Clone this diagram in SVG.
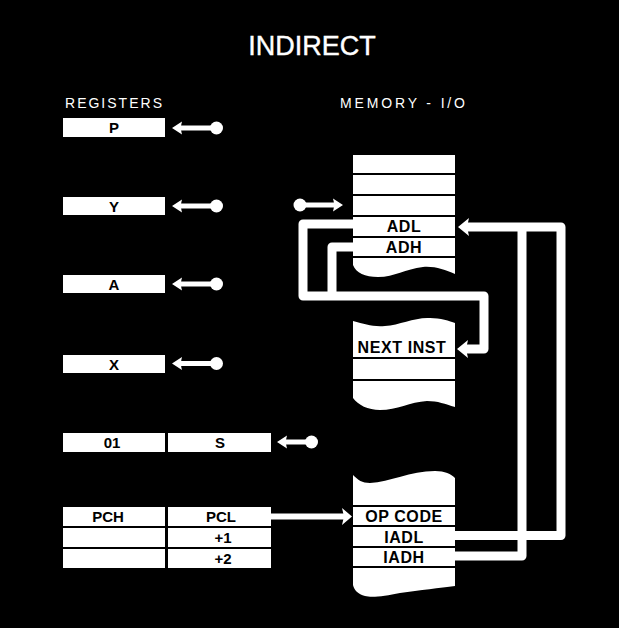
<svg xmlns="http://www.w3.org/2000/svg" width="619" height="628" viewBox="0 0 619 628">
<style>
.box{fill:#fff}
.lbl{font-family:"Liberation Sans",Arial,sans-serif;font-weight:bold;font-size:15px;fill:#000;text-anchor:middle}
.mlbl{font-size:16px;letter-spacing:0.6px}
.hdr{font-family:"Liberation Sans",Arial,sans-serif;font-size:14px;fill:#fff}
.wire{fill:none;stroke:#fff;stroke-width:9;stroke-linejoin:round;stroke-linecap:butt}
.bus{fill:none;stroke:#fff;stroke-width:5}
.head{fill:#fff}
</style>
<rect x="0" y="0" width="619" height="628" fill="#000"/>
<text x="312" y="55" font-family="'Liberation Sans',Arial,sans-serif" font-size="27" fill="#fff" text-anchor="middle" stroke="#fff" stroke-width="0.4">INDIRECT</text>
<text class="hdr" x="65" y="108" textLength="97" lengthAdjust="spacing">REGISTERS</text>
<text class="hdr" x="340" y="108" textLength="125" lengthAdjust="spacing">MEMORY - I/O</text>

<g id="reg-p"><rect class="box" x="63" y="118" width="102" height="19"/><text class="lbl" x="114" y="133">P</text></g>
<g id="reg-y"><rect class="box" x="63" y="197" width="102" height="18"/><text class="lbl" x="114" y="211.5">Y</text></g>
<g id="reg-a"><rect class="box" x="63" y="275" width="102" height="18"/><text class="lbl" x="114" y="289.5">A</text></g>
<g id="reg-x"><rect class="box" x="63" y="355" width="102" height="18"/><text class="lbl" x="114" y="369.5">X</text></g>
<g id="reg-01"><rect class="box" x="63" y="433" width="102" height="19"/><text class="lbl" x="112" y="448">01</text></g>
<g id="reg-s"><rect class="box" x="168" y="433" width="103" height="19"/><text class="lbl" x="220" y="448">S</text></g>
<g id="reg-pc">
<rect class="box" x="63" y="507" width="102" height="19"/><text class="lbl" x="108" y="522">PCH</text>
<rect class="box" x="168" y="507" width="103" height="19"/><text class="lbl" x="221" y="522">PCL</text>
<rect class="box" x="63" y="528" width="102" height="19"/>
<rect class="box" x="168" y="528" width="103" height="19"/><text class="lbl" x="223" y="543">+1</text>
<rect class="box" x="63" y="549" width="102" height="19"/>
<rect class="box" x="168" y="549" width="103" height="19"/><text class="lbl" x="223" y="564">+2</text>
</g>

<g id="mem-top">
<rect class="box" x="353" y="155" width="102" height="18"/>
<rect class="box" x="353" y="175" width="102" height="19"/>
<rect class="box" x="353" y="196" width="102" height="19"/>
<rect class="box" x="353" y="217" width="102" height="19"/><text class="lbl mlbl" x="404" y="232">ADL</text>
<rect class="box" x="353" y="238" width="102" height="18"/><text class="lbl mlbl" x="404" y="252.5">ADH</text>
<path class="box" d="M353,258 H455 V274 C445,270 435,266 423,267 C405,269 395,277 378,277 C365,277 356,273 353,265 Z"/>
</g>
<g id="mem-next">
<path class="box" d="M353,321 C365,324 372,327 385,326 C400,325 415,317 430,318 C440,318 450,321 455,323 V357 H353 Z"/>
<text class="lbl mlbl" x="402" y="353" letter-spacing="0.8">NEXT INST</text>
<rect class="box" x="353" y="359" width="102" height="20"/>
<path class="box" d="M353,381 H455 V407 C445,404 438,401 427,401 C410,402 397,410 380,410 C368,410 358,405 353,398 Z"/>
</g>
<g id="mem-op">
<path class="box" d="M353,475 C358,480 362,483 370,483 C390,482 410,471 435,471 C445,471 451,474 455,478 V505 H353 Z"/>
<rect class="box" x="353" y="507" width="102" height="18"/><text class="lbl mlbl" x="404" y="521.5">OP CODE</text>
<rect class="box" x="353" y="527" width="102" height="19"/><text class="lbl mlbl" x="404" y="542.5">IADL</text>
<rect class="box" x="353" y="548" width="102" height="18"/><text class="lbl mlbl" x="404" y="563">IADH</text>
<path class="box" d="M353,568 H455 V586 C440,588 420,590 400,593 C385,596 372,598 365,596 C358,594 354,590 353,585 Z"/>
</g>

<g id="connectors">
<line class="bus" x1="180" y1="128" x2="212" y2="128"/><path class="head" d="M172,128 L182,121.5 Q180,128 182,134.5 Z"/><circle class="head" cx="216.5" cy="128" r="6.5"/>
<line class="bus" x1="180" y1="206" x2="212" y2="206"/><path class="head" d="M172,206 L182,199.5 Q180,206 182,212.5 Z"/><circle class="head" cx="216.5" cy="206" r="6.5"/>
<line class="bus" x1="180" y1="284" x2="212" y2="284"/><path class="head" d="M172,284 L182,277.5 Q180,284 182,290.5 Z"/><circle class="head" cx="216.5" cy="284" r="6.5"/>
<line class="bus" x1="180" y1="363.5" x2="212" y2="363.5"/><path class="head" d="M172,363.5 L182,357 Q180,363.5 182,370 Z"/><circle class="head" cx="216.5" cy="363.5" r="6.5"/>
<line class="bus" x1="285" y1="442" x2="308" y2="442"/><path class="head" d="M277,442 L287,435.5 Q285,442 287,448.5 Z"/><circle class="head" cx="311.5" cy="442" r="6.5"/>
<line class="bus" x1="304" y1="205" x2="335" y2="205"/><path class="head" d="M343,205 L333,198.5 Q335,205 333,211.5 Z"/><circle class="head" cx="300" cy="205" r="6.5"/>
<path class="wire" d="M355,224 H303 V296 H484 V349 H466"/>
<path class="wire" d="M355,247 H332 V296"/>
<path class="head" d="M457,349 L468,340 L466,349 L468,358 Z"/>
<path class="wire" d="M453,535.5 H561 V227 H466"/>
<path class="wire" d="M453,556 H522 V227"/>
<path class="head" d="M458,227 L469,218 L467,227 L469,236 Z"/>
<line x1="270" y1="516.5" x2="345" y2="516.5" stroke="#fff" stroke-width="6"/>
<path class="head" d="M352,516.5 L342,508 L344,516.5 L342,525 Z"/>
</g>
</svg>
